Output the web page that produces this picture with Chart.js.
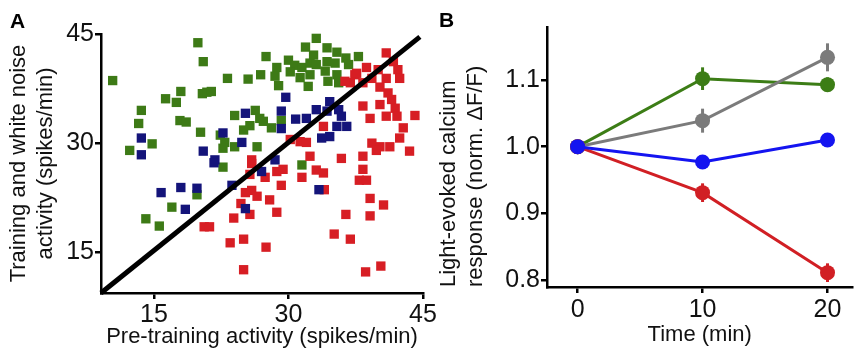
<!DOCTYPE html>
<html>
<head>
<meta charset="utf-8">
<script src="https://cdn.jsdelivr.net/npm/chart.js@4.4.1/dist/chart.umd.min.js"></script>
<style>
  html, body { margin: 0; padding: 0; background: #fff; }
  #wrap { position: relative; width: 860px; height: 350px; overflow: hidden; }
  canvas { position: absolute; top: 0; }
  #chartA { left: 0; }
  #chartB { left: 436px; }
  .panel-label { position: absolute; font: bold 21px "Liberation Sans", Arial, sans-serif; color: #000; }
</style>
</head>
<body>
<div id="wrap">
  <canvas id="chartA" width="445" height="350"></canvas>
  <canvas id="chartB" width="424" height="350"></canvas>
  <div class="panel-label" style="left:10px;top:9px">A</div>
  <div class="panel-label" style="left:439px;top:8px">B</div>
</div>
<script>
// panel A: spikes/min, pre-training (x) vs training + white noise (y)
const greenPre = [19.9, 20.5, 10.4, 18.0, 16.3, 17.5, 20.4, 20.9, 13.6, 13.3, 17.9, 18.6, 20.2, 14.8, 12.3,
  33.1, 31.9, 27.5, 32.8, 30.0, 28.7, 30.7, 31.5, 32.4, 33.1, 23.2, 25.5, 26.9, 28.5, 31.3, 32.4, 28.9,
  32.2, 21.4, 24.0, 26.3, 26.8, 25.7, 28.1, 29.2, 22.4, 22.9, 24.0, 22.7, 26.5, 34.3, 35.4, 36.4, 37.8,
  34.3, 35.2, 36.7, 34.1, 35.4, 34.4, 35.6, 17.0, 14.1, 15.6, 22.7, 31.5, 19.8, 30.2, 27.2, 25.0];
const greenPost = [43.8, 41.2, 38.6, 37.1, 36.1, 35.6, 36.8, 37.0, 34.5, 32.7, 33.1, 32.9, 31.5, 29.9, 29.0,
  44.4, 43.2, 41.9, 42.1, 41.4, 40.4, 40.7, 40.4, 41.0, 40.8, 38.9, 38.8, 39.4, 39.2, 39.0, 39.4, 37.9,
  37.8, 37.1, 33.8, 34.5, 33.4, 32.4, 32.1, 33.1, 31.1, 30.1, 29.5, 29.3, 29.5, 43.1, 42.5, 41.7, 41.9,
  41.2, 41.0, 40.8, 39.9, 39.4, 38.5, 38.3, 21.2, 19.6, 18.6, 26.7, 27.0, 22.9, 39.8, 33.0, 31.8];

const navyPre = [13.6, 13.6, 20.5, 29.7, 25.2, 29.2, 30.8, 32.0, 33.1, 29.2, 22.7, 24.8, 21.8, 34.3, 35.6,
  35.4, 36.5, 34.6, 33.7, 35.9, 15.8, 18.0, 19.8, 18.5, 21.7, 23.7, 27.0, 25.2, 28.5, 33.4, 34.6];
const navyPost = [30.7, 28.4, 28.9, 36.3, 34.1, 34.4, 33.3, 33.4, 34.6, 32.0, 31.4, 30.1, 27.7, 34.4, 34.6,
  32.3, 32.3, 30.9, 30.7, 33.7, 23.2, 23.9, 23.8, 20.9, 27.3, 24.2, 26.1, 21.0, 27.7, 23.6, 35.7];

const redPre = [30.2, 31.3, 32.0, 32.4, 25.9, 40.9, 41.7, 38.7, 37.4, 40.0, 42.2, 40.9, 42.4, 36.9, 39.3,
  38.3, 40.2, 41.1, 41.5, 40.2, 38.3, 41.9, 39.1, 40.9, 42.1, 44.1, 42.8, 33.9, 42.4, 39.3, 40.2, 41.3,
  43.5, 35.9, 38.3, 20.6, 21.2, 25.9, 25.7, 27.4, 28.7, 29.4, 29.2, 25.2, 26.5, 25.9, 24.7, 27.9, 25.7,
  23.9, 28.7, 23.5, 25.0, 27.5, 25.0, 31.5, 33.1, 38.3, 33.9, 37.9, 38.7, 34.0, 39.1, 40.6, 36.4, 39.1,
  35.1, 36.9, 40.3, 38.6, 39.8, 36.3, 37.6];
const redPost = [30.5, 30.2, 30.1, 28.2, 27.7, 42.4, 41.2, 40.4, 39.4, 40.1, 40.1, 38.9, 38.9, 38.3, 38.9,
  38.3, 37.7, 36.9, 36.0, 35.3, 35.1, 34.8, 33.4, 33.7, 33.7, 33.8, 32.1, 32.3, 30.7, 30.0, 29.5, 29.5,
  28.9, 27.9, 28.2, 18.5, 18.5, 27.2, 25.7, 25.3, 26.1, 26.4, 24.2, 23.2, 22.7, 23.5, 21.7, 22.2, 20.2,
  19.7, 20.5, 16.3, 16.8, 15.7, 12.6, 25.3, 26.3, 26.4, 25.9, 24.9, 24.9, 23.6, 22.4, 21.5, 20.2, 20.0,
  17.5, 16.8, 13.1, 12.3, 29.0, 38.5, 39.6];

const unityX = [9.1, 44.65];
const unityY = [9.4, 44.6];
const ticksA = [15, 30, 45];

// panel B: normalised light-evoked calcium response over time
const timeMin = [0, 10, 20];
const greenResp = [1.0, 1.102, 1.093];
const greenErr = [0, 0.017, 0.011];
const grayResp = [1.0, 1.039, 1.134];
const grayErr = [0, 0.018, 0.021];
const blueResp = [1.0, 0.977, 1.010];
const blueErr = [0, 0.008, 0.01];
const redResp = [1.0, 0.931, 0.811];
const redErr = [0, 0.014, 0.014];
const ticksBx = [0, 10, 20];
const ticksBy = [0.8, 0.9, 1.0, 1.1];

const FONT = "'Liberation Sans', Arial, sans-serif";
const tickFont = { family: FONT, size: 25 };
const titleFont = { family: FONT, size: 22, lineHeight: 1.22 };

const pairs = (xs, ys) => xs.map((x, i) => ({ x, y: ys[i] }));

function squares(label, xs, ys, color, order) {
  return {
    type: "scatter",
    label,
    data: pairs(xs, ys),
    backgroundColor: color,
    pointStyle: "rect",
    pointRadius: 6.6,
    borderWidth: 0,
    clip: false,
    order,
  };
}

function axisStyle(extra) {
  return Object.assign({
    type: "linear",
    grid: { drawOnChartArea: false, drawTicks: true, tickLength: 6, color: "#000", lineWidth: 2.5 },
    border: { color: "#000", width: 2.5 },
  }, extra);
}

new Chart(document.getElementById("chartA"), {
  type: "scatter",
  data: {
    datasets: [
      {
        type: "line",
        label: "unity",
        data: pairs(unityX, unityY),
        borderColor: "#000",
        borderWidth: 5,
        pointRadius: 0,
        clip: false,
        order: 0,
      },
      squares("navy", navyPre, navyPost, "#14147a", 1),
      squares("red", redPre, redPost, "#d71e24", 2),
      squares("green", greenPre, greenPost, "#3d7a16", 3),
    ],
  },
  options: {
    responsive: false,
    animation: false,
    events: [],
    layout: { padding: { left: 0, right: 22, top: 34, bottom: 0 } },
    plugins: { legend: { display: false }, tooltip: { enabled: false } },
    scales: {
      x: axisStyle({
        min: 9.1,
        max: 45,
        afterBuildTicks: (s) => { s.ticks = ticksA.map((v) => ({ value: v })); },
        afterFit: (s) => { s.height = 57; },
        ticks: { font: tickFont, color: "#111", padding: 1, maxRotation: 0 },
        title: { display: true, text: "Pre-training activity (spikes/min)", font: titleFont, color: "#111", padding: { top: 0, bottom: 0 } },
      }),
      y: axisStyle({
        min: 9.4,
        max: 45,
        afterBuildTicks: (s) => { s.ticks = ticksA.map((v) => ({ value: v })); },
        afterFit: (s) => { s.width = 101; },
        ticks: { font: tickFont, color: "#111", padding: 1 },
        title: { display: true, text: ["Training and white noise", "activity (spikes/min)"], font: titleFont, color: "#111", padding: { top: 6, bottom: 0 } },
      }),
    },
  },
});

// vertical error bars drawn under the markers
const errorBars = {
  id: "errorBars",
  beforeDatasetsDraw(chart) {
    const { ctx, scales: { x, y } } = chart;
    ctx.save();
    chart.data.datasets.forEach((ds) => {
      if (!ds.errors) return;
      ctx.strokeStyle = ds.borderColor;
      ctx.lineWidth = 3;
      ds.data.forEach((p, i) => {
        const e = ds.errors[i];
        if (!e) return;
        const px = x.getPixelForValue(p.x);
        ctx.beginPath();
        ctx.moveTo(px, y.getPixelForValue(p.y - e));
        ctx.lineTo(px, y.getPixelForValue(p.y + e));
        ctx.stroke();
      });
    });
    ctx.restore();
  },
};

function series(label, ys, errs, color, order) {
  return {
    label,
    data: pairs(timeMin, ys),
    errors: errs,
    borderColor: color,
    backgroundColor: color,
    borderWidth: 3,
    pointRadius: 7.5,
    pointBorderWidth: 0,
    clip: false,
    order,
  };
}

new Chart(document.getElementById("chartB"), {
  type: "line",
  data: {
    datasets: [
      series("blue", blueResp, blueErr, "#1414f0", 0),
      series("red", redResp, redErr, "#d11f24", 1),
      series("gray", grayResp, grayErr, "#7b7b7b", 2),
      series("green", greenResp, greenErr, "#3c7d16", 3),
    ],
  },
  plugins: [errorBars],
  options: {
    responsive: false,
    animation: false,
    events: [],
    layout: { padding: { left: 0, right: 0, top: 27, bottom: 0 } },
    plugins: { legend: { display: false }, tooltip: { enabled: false } },
    scales: {
      x: axisStyle({
        min: -2.45,
        max: 22,
        afterBuildTicks: (s) => { s.ticks = ticksBx.map((v) => ({ value: v })); },
        afterFit: (s) => { s.height = 63; },
        ticks: { font: tickFont, color: "#111", padding: 2, maxRotation: 0 },
        title: { display: true, text: "Time (min)", font: titleFont, color: "#111", padding: { top: 0, bottom: 2 } },
      }),
      y: axisStyle({
        min: 0.7895,
        max: 1.1795,
        afterBuildTicks: (s) => { s.ticks = ticksBy.map((v) => ({ value: v })); },
        afterFit: (s) => { s.width = 111; },
        ticks: { font: tickFont, color: "#111", padding: 1, callback: (v) => Number(v).toFixed(1) },
        title: { display: true, text: ["Light-evoked calcium", "response (norm. \u0394F/F)"], align: "start", font: titleFont, color: "#111", padding: { top: 0, bottom: 0 } },
      }),
    },
  },
});
</script>
</body>
</html>
